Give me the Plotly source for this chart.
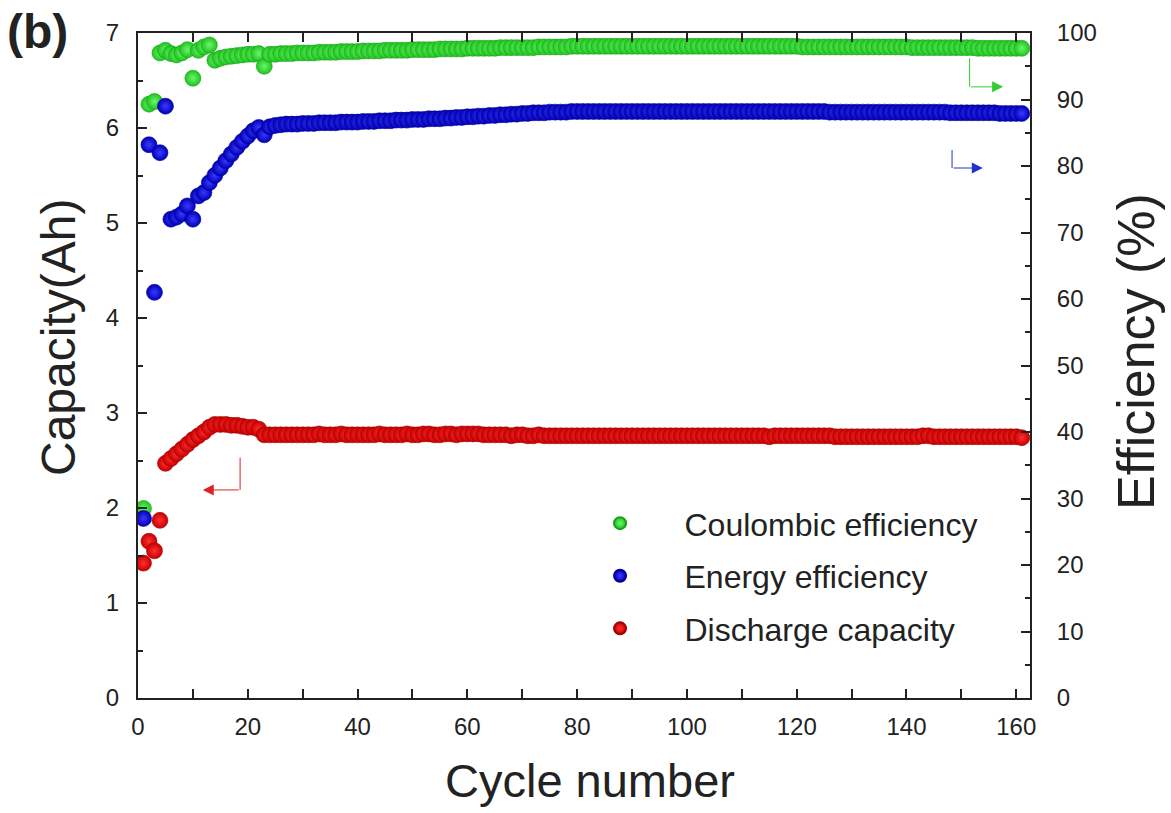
import plotly.graph_objects as go

cycles = list(range(1, 162))

discharge_capacity = [
    1.42, 1.65, 1.55, 1.87, 2.47, 2.52, 2.57, 2.62, 2.67, 2.72,
    2.76, 2.80, 2.85, 2.88, 2.88, 2.88, 2.87, 2.87, 2.86, 2.85,
    2.85, 2.83, 2.77, 2.77, 2.77, 2.77, 2.77, 2.77, 2.77, 2.77,
    2.77, 2.77, 2.78, 2.77, 2.77, 2.77, 2.78, 2.77, 2.77, 2.77,
    2.77, 2.77, 2.77, 2.78, 2.77, 2.77, 2.77, 2.77, 2.78, 2.77,
    2.77, 2.78, 2.78, 2.77, 2.77, 2.78, 2.78, 2.77, 2.78, 2.78,
    2.78, 2.78, 2.77, 2.77, 2.77, 2.77, 2.77, 2.76, 2.77, 2.77,
    2.76, 2.76, 2.77, 2.76, 2.76, 2.76, 2.76, 2.76, 2.76, 2.76,
    2.76, 2.76, 2.76, 2.76, 2.76, 2.76, 2.76, 2.76, 2.76, 2.76,
    2.76, 2.76, 2.76, 2.76, 2.76, 2.76, 2.76, 2.76, 2.76, 2.76,
    2.76, 2.76, 2.76, 2.76, 2.76, 2.76, 2.76, 2.76, 2.76, 2.76,
    2.76, 2.76, 2.76, 2.76, 2.75, 2.76, 2.76, 2.76, 2.76, 2.76,
    2.76, 2.76, 2.76, 2.76, 2.76, 2.76, 2.75, 2.75, 2.75, 2.75,
    2.75, 2.75, 2.75, 2.75, 2.75, 2.75, 2.75, 2.75, 2.75, 2.75,
    2.75, 2.75, 2.76, 2.76, 2.75, 2.75, 2.75, 2.75, 2.75, 2.75,
    2.75, 2.75, 2.75, 2.75, 2.75, 2.75, 2.75, 2.75, 2.75, 2.75,
    2.74,
]

energy_efficiency = [
    27.0, 83.2, 61.0, 82.0, 89.0, 72.0, 72.3, 72.8, 74.0, 72.0,
    75.5, 76.0, 77.5, 78.6, 79.7, 80.8, 81.8, 82.8, 83.7, 84.5,
    85.3, 85.8, 84.7, 85.9, 86.1, 86.2, 86.3, 86.3, 86.3, 86.4,
    86.4, 86.4, 86.5, 86.5, 86.5, 86.5, 86.6, 86.6, 86.6, 86.6,
    86.7, 86.7, 86.7, 86.8, 86.8, 86.8, 86.9, 86.9, 86.9, 87.0,
    87.0, 87.0, 87.1, 87.1, 87.1, 87.2, 87.2, 87.3, 87.3, 87.4,
    87.4, 87.5, 87.5, 87.6, 87.6, 87.7, 87.7, 87.8, 87.8, 87.9,
    87.9, 88.0, 88.0, 88.0, 88.1, 88.1, 88.1, 88.1, 88.2, 88.2,
    88.2, 88.2, 88.2, 88.2, 88.2, 88.2, 88.2, 88.2, 88.2, 88.2,
    88.2, 88.2, 88.2, 88.2, 88.2, 88.2, 88.2, 88.2, 88.2, 88.2,
    88.2, 88.2, 88.2, 88.2, 88.2, 88.2, 88.2, 88.2, 88.2, 88.2,
    88.2, 88.2, 88.2, 88.2, 88.2, 88.2, 88.2, 88.2, 88.2, 88.2,
    88.2, 88.2, 88.2, 88.2, 88.2, 88.1, 88.1, 88.1, 88.1, 88.1,
    88.1, 88.1, 88.1, 88.1, 88.1, 88.1, 88.1, 88.1, 88.1, 88.1,
    88.1, 88.1, 88.1, 88.1, 88.1, 88.1, 88.1, 88.0, 88.0, 88.0,
    88.0, 88.0, 88.0, 88.0, 88.0, 88.0, 87.9, 87.9, 87.9, 87.9,
    87.9,
]

coulombic_efficiency = [
    28.5, 89.3, 89.7, 97.0, 97.4, 96.9, 96.7, 97.0, 97.5, 93.2,
    97.4, 97.9, 98.2, 95.9, 96.2, 96.4, 96.5, 96.6, 96.7, 96.8,
    96.8, 96.9, 95.0, 96.8, 96.8, 96.9, 96.9, 96.9, 97.0, 97.0,
    97.0, 97.0, 97.1, 97.1, 97.1, 97.1, 97.2, 97.2, 97.2, 97.2,
    97.3, 97.3, 97.3, 97.3, 97.4, 97.4, 97.4, 97.4, 97.4, 97.5,
    97.5, 97.5, 97.5, 97.5, 97.6, 97.6, 97.6, 97.6, 97.6, 97.7,
    97.7, 97.7, 97.7, 97.7, 97.7, 97.8, 97.8, 97.8, 97.8, 97.8,
    97.8, 97.8, 97.9, 97.9, 97.9, 97.9, 97.9, 97.9, 98.0, 98.0,
    98.0, 98.0, 98.0, 98.0, 98.0, 98.0, 98.0, 98.0, 98.0, 98.0,
    98.0, 98.0, 98.0, 98.0, 98.0, 98.0, 98.0, 98.0, 98.0, 98.0,
    98.0, 98.0, 98.0, 98.0, 98.0, 98.0, 98.0, 98.0, 98.0, 98.0,
    98.0, 98.0, 98.0, 98.0, 98.0, 98.0, 98.0, 98.0, 98.0, 98.0,
    97.9, 97.9, 97.9, 97.9, 97.9, 97.9, 97.9, 97.9, 97.9, 97.9,
    97.9, 97.9, 97.9, 97.9, 97.9, 97.9, 97.9, 97.9, 97.9, 97.9,
    97.8, 97.8, 97.8, 97.8, 97.8, 97.8, 97.8, 97.8, 97.8, 97.8,
    97.8, 97.8, 97.7, 97.7, 97.7, 97.7, 97.7, 97.7, 97.7, 97.7,
    97.7,
]

FONT = "Liberation Sans, Arial, sans-serif"
TXT = "#222222"
NB = "\u00a0" * 5

fig = go.Figure()

fig.add_trace(go.Scatter(
    x=cycles, y=coulombic_efficiency, yaxis="y2", mode="markers",
    name=NB + "Coulombic efficiency", legendgroup="g1",
    marker=dict(size=16, color="#1fc41f", gradient=dict(type="radial", color="#6cf56c"),
                line=dict(width=0.6, color="#18a018")),
))
fig.add_trace(go.Scatter(
    x=cycles, y=energy_efficiency, yaxis="y2", mode="markers",
    name=NB + "Energy efficiency", legendgroup="g2",
    marker=dict(size=16, color="#0000b8", gradient=dict(type="radial", color="#3a3aff"),
                line=dict(width=0.6, color="#000090")),
))
fig.add_trace(go.Scatter(
    x=cycles, y=discharge_capacity, yaxis="y", mode="markers",
    name=NB + "Discharge capacity", legendgroup="g3",
    marker=dict(size=16, color="#c80000", gradient=dict(type="radial", color="#ff3030"),
                line=dict(width=0.6, color="#a00000")),
))

axis_common = dict(
    showline=True, linewidth=2, linecolor=TXT, ticks="inside", ticklen=9, tickwidth=2,
    tickcolor=TXT, showgrid=False, zeroline=False,
    tickfont=dict(family=FONT, size=24, color=TXT),
)

# plot-area pixel frame (used only to place the free-standing labels)
L, R, T, B = 138, 1030, 33, 698

def px_x(p):
    return (p - L) / (R - L)

def px_y(p):
    return (B - p) / (B - T)

fig.update_layout(
    width=1171, height=813,
    margin=dict(l=L, r=1171 - R, t=T, b=813 - B, autoexpand=False),
    paper_bgcolor="white", plot_bgcolor="white",
    showlegend=True,
    legend=dict(
        x=0.518, y=0.304, xanchor="left", yanchor="top",
        font=dict(family=FONT, size=32, color=TXT),
        bgcolor="rgba(0,0,0,0)", tracegroupgap=8, itemsizing="constant",
        traceorder="grouped",
    ),
    xaxis=dict(
        range=[0, 162.5], dtick=20, tick0=0, mirror="allticks",
        minor=dict(dtick=10, ticks="inside", ticklen=5, tickwidth=2, tickcolor=TXT),
        ticklabelstandoff=6,
        **axis_common,
    ),
    yaxis=dict(
        range=[0, 7], dtick=1, tick0=0,
        minor=dict(dtick=0.5, ticks="inside", ticklen=5, tickwidth=2, tickcolor=TXT),
        ticklabelstandoff=12,
        **axis_common,
    ),
    yaxis2=dict(
        range=[0, 100], dtick=10, tick0=0, overlaying="y", side="right",
        minor=dict(dtick=5, ticks="inside", ticklen=5, tickwidth=2, tickcolor=TXT),
        ticklabelstandoff=20,
        **axis_common,
    ),
)

annotations = [
    dict(text="(b)", x=px_x(5), y=px_y(3), xref="paper", yref="paper",
         xanchor="left", yanchor="top", showarrow=False,
         font=dict(family=FONT, size=48, color=TXT, weight="bold")),
    dict(text="Cycle number", x=px_x(590), y=px_y(780), xref="paper", yref="paper",
         xanchor="center", yanchor="middle",
         showarrow=False, font=dict(family=FONT, size=47, color=TXT)),
    dict(text="Capacity(Ah)", x=px_x(58), y=px_y(338), xref="paper", yref="paper",
         xanchor="center", yanchor="middle",
         textangle=-90, showarrow=False, font=dict(family=FONT, size=48, color=TXT)),
    dict(text="Efficiency (%)", x=px_x(1136), y=px_y(352), xref="paper", yref="paper",
         xanchor="center", yanchor="middle",
         textangle=-90, showarrow=False, font=dict(family=FONT, size=52, color=TXT)),
]

# axis indicator arrows
arrows = [
    dict(x=157.6, y=91.9, ax=151.5, ay=91.9, yref="y2", color="#33cc33", vy0=96.2),
    dict(x=153.9, y=79.7, ax=148.3, ay=79.7, yref="y2", color="#2233cc", vy0=82.4),
    dict(x=11.8, y=2.19, ax=18.6, ay=2.19, yref="y", color="#dd2222", vy0=2.53),
]
shapes = []
for a in arrows:
    annotations.append(dict(
        x=a["x"], y=a["y"], ax=a["ax"], ay=a["ay"], xref="x", yref=a["yref"],
        axref="x", ayref=a["yref"], showarrow=True, arrowhead=2, arrowsize=2.2,
        arrowwidth=1, arrowcolor=a["color"], text="",
    ))
    shapes.append(dict(type="line", xref="x", yref=a["yref"], x0=a["ax"], x1=a["ax"],
                       y0=a["vy0"], y1=a["ay"], line=dict(color=a["color"], width=1)))

fig.update_layout(annotations=annotations, shapes=shapes)

fig.write_html("out.html", config={"displayModeBar": False},
               post_script="document.body.style.margin='0';")
